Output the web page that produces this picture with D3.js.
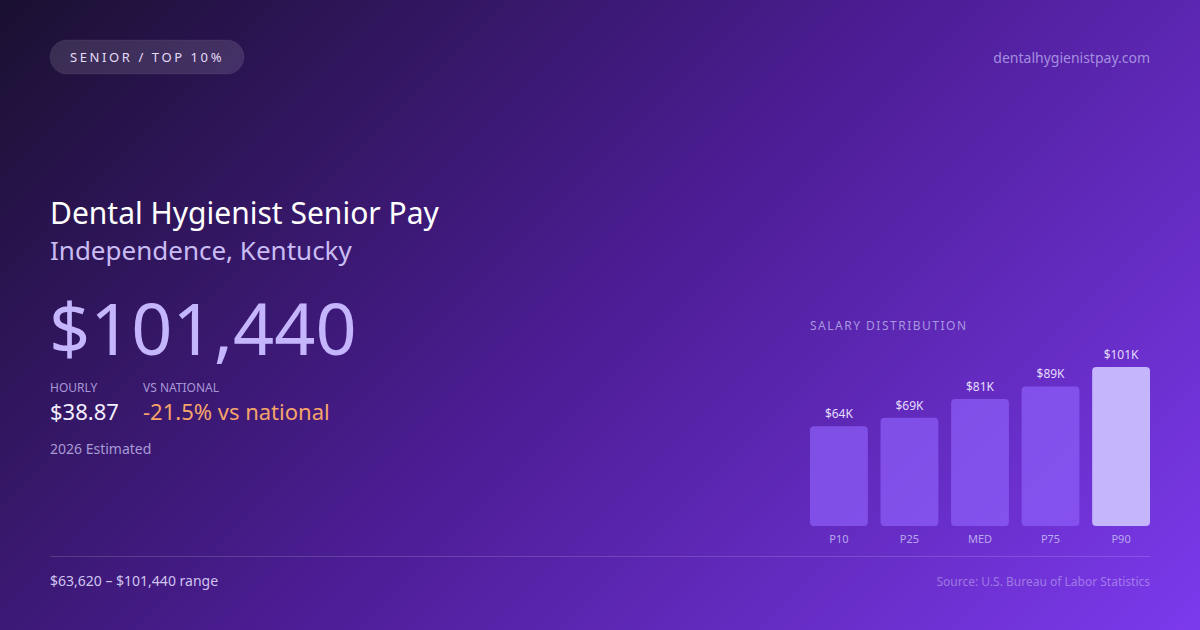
<!DOCTYPE html>
<html>
<head>
<meta charset="utf-8">
<script src="https://cdn.jsdelivr.net/npm/d3@7"></script>
<style>
  html, body { margin: 0; padding: 0; width: 1200px; height: 630px; overflow: hidden; }
  svg { display: block; font-family: "Noto Sans", "Open Sans", sans-serif; }
</style>
</head>
<body>
<svg id="card" width="1200" height="630"></svg>
<script>
// Salary percentiles
const categories = ['P10', 'P25', 'MED', 'P75', 'P90'];
const values = [63620, 69000, 81000, 89000, 101440];
const valueLabels = ['$64K', '$69K', '$81K', '$89K', '$101K'];

const W = 1200, H = 630;
const svg = d3.select('#card');

// Background gradient (roughly a 135deg css gradient)
const defs = svg.append('defs');
const bg = defs.append('linearGradient')
  .attr('id', 'bg')
  .attr('gradientUnits', 'userSpaceOnUse')
  .attr('x1', 142.5).attr('y1', -142.5)
  .attr('x2', 1057.5).attr('y2', 772.5);
bg.append('stop').attr('offset', '0%').attr('stop-color', '#1a1030');
bg.append('stop').attr('offset', '50%').attr('stop-color', '#4c1d95');
bg.append('stop').attr('offset', '100%').attr('stop-color', '#7c3aed');

svg.append('rect').attr('width', W).attr('height', H).attr('fill', 'url(#bg)');

// Badge
svg.append('rect')
  .attr('x', 50).attr('y', 40).attr('width', 194).attr('height', 34)
  .attr('rx', 17)
  .attr('fill', 'rgba(255,255,255,0.12)')
  .attr('stroke', 'rgba(255,255,255,0.06)');
svg.append('text')
  .attr('x', 147).attr('y', 62)
  .attr('text-anchor', 'middle')
  .attr('fill', '#e4dcf7')
  .style('font-size', '13px')
  .style('letter-spacing', '2.6px')
  .text('SENIOR / TOP 10%');

svg.append('text')
  .attr('x', 1150).attr('y', 63)
  .attr('text-anchor', 'end')
  .attr('fill', '#a58ee0')
  .style('font-size', '14px')
  .text('dentalhygienistpay.com');

// Headline block
svg.append('text')
  .attr('x', 50).attr('y', 224)
  .attr('fill', '#ffffff')
  .style('font-size', '30px')
  .text('Dental Hygienist Senior Pay');
svg.append('text')
  .attr('x', 50).attr('y', 260)
  .attr('fill', '#c9bcf3')
  .style('font-size', '26px')
  .text('Independence, Kentucky');

svg.append('text')
  .attr('x', 49).attr('y', 355)
  .attr('fill', '#c4b5fd')
  .style('font-size', '72px')
  .text('$101,440');

svg.append('text')
  .attr('x', 50).attr('y', 392)
  .attr('fill', '#a897d8')
  .style('font-size', '12px')
  .text('HOURLY');
svg.append('text')
  .attr('x', 143).attr('y', 392)
  .attr('fill', '#a897d8')
  .style('font-size', '12px')
  .text('VS NATIONAL');
svg.append('text')
  .attr('x', 50).attr('y', 420)
  .attr('fill', '#f3eefe')
  .style('font-size', '22px')
  .text('$38.87');
svg.append('text')
  .attr('x', 143).attr('y', 420)
  .attr('fill', '#f6a46a')
  .style('font-size', '22px')
  .text('-21.5% vs national');
svg.append('text')
  .attr('x', 50).attr('y', 454)
  .attr('fill', '#a99bd6')
  .style('font-size', '14px')
  .text('2026 Estimated');

// Salary distribution bars
const x = d3.scaleBand()
  .domain(categories)
  .range([810, 1150])
  .paddingInner(0.18);

const y = d3.scaleLinear()
  .domain([0, d3.max(values)])
  .range([526, 367]);

svg.append('text')
  .attr('x', 810).attr('y', 330)
  .attr('fill', '#a897e0')
  .style('font-size', '12px')
  .style('letter-spacing', '1.5px')
  .text('SALARY DISTRIBUTION');

const bars = svg.append('g')
  .selectAll('g')
  .data(categories)
  .join('g');

bars.append('rect')
  .attr('x', d => x(d))
  .attr('y', (d, i) => y(values[i]))
  .attr('width', x.bandwidth())
  .attr('height', (d, i) => y(0) - y(values[i]))
  .attr('rx', 4)
  .attr('fill', (d, i) => i === categories.length - 1 ? '#c4b5fd' : 'rgba(139,92,246,0.75)');

bars.append('text')
  .attr('x', d => x(d) + x.bandwidth() / 2)
  .attr('y', (d, i) => y(values[i]) - 8)
  .attr('text-anchor', 'middle')
  .attr('fill', '#e4dcfc')
  .style('font-size', '12px')
  .text((d, i) => valueLabels[i]);

bars.append('text')
  .attr('x', d => x(d) + x.bandwidth() / 2)
  .attr('y', 543)
  .attr('text-anchor', 'middle')
  .attr('fill', '#b9a8ee')
  .style('font-size', '11px')
  .text(d => d);

// Footer
svg.append('line')
  .attr('x1', 50).attr('x2', 1150)
  .attr('y1', 556.5).attr('y2', 556.5)
  .attr('stroke', 'rgba(255,255,255,0.15)');

svg.append('text')
  .attr('x', 50).attr('y', 586)
  .attr('fill', '#cfc4f0')
  .style('font-size', '14px')
  .text('$63,620 – $101,440 range');

svg.append('text')
  .attr('x', 1150).attr('y', 586)
  .attr('text-anchor', 'end')
  .attr('fill', 'rgba(255,255,255,0.35)')
  .style('font-size', '12px')
  .text('Source: U.S. Bureau of Labor Statistics');
</script>
</body>
</html>
